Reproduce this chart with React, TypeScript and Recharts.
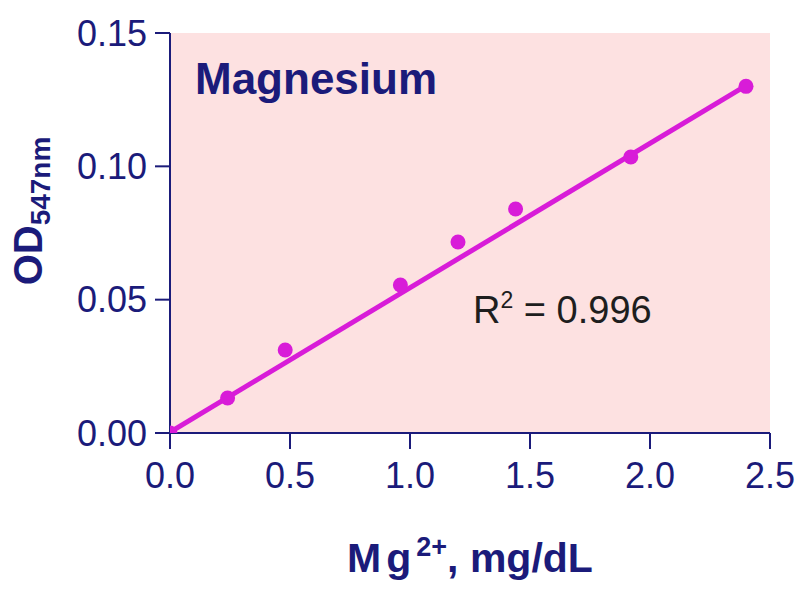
import React from 'react';
import {
  ComposedChart,
  Scatter,
  XAxis,
  YAxis,
  ReferenceArea,
  Label,
} from 'recharts';

// Mg2+ standards (mg/dL) and measured OD at 547 nm
const concentrations = [0, 0.24, 0.48, 0.96, 1.2, 1.44, 1.92, 2.4];
const odValues = [0.0, 0.0131, 0.0311, 0.0555, 0.0716, 0.084, 0.1035, 0.13];

// linear fit end points
const fitX = [0, 2.4];
const fitY = [0.0003, 0.1303];

const xTicks = [0, 0.5, 1.0, 1.5, 2.0, 2.5];
const yTicks = [0, 0.05, 0.1, 0.15];

const points = concentrations.map((x, i) => ({ x, y: odValues[i] }));
const fitLine = fitX.map((x, i) => ({ x, y: fitY[i] }));

const NAVY = '#1b1b7a';
const MAGENTA = '#d81cd8';
const PINK = '#fde1e1';
const FONT = '"Liberation Sans", Arial, sans-serif';

const YTitle = (props: any) => {
  const { viewBox } = props;
  const cx = 28;
  const cy = viewBox.y + viewBox.height / 2 - 22;
  return (
    <text
      x={cx}
      y={cy}
      transform={`rotate(-90, ${cx}, ${cy})`}
      textAnchor="middle"
      fill={NAVY}
      fontFamily={FONT}
      fontWeight="bold"
      fontSize={40}
      dominantBaseline="central"
    >
      OD
      <tspan fontSize={28} dy={12}>
        547nm
      </tspan>
    </text>
  );
};

const XTitle = (props: any) => {
  const { viewBox } = props;
  const cx = viewBox.x + viewBox.width / 2;
  return (
    <text
      x={cx}
      y={572}
      textAnchor="middle"
      fill={NAVY}
      fontFamily={FONT}
      fontWeight="bold"
      fontSize={41}
    >
      <tspan letterSpacing={5}>Mg</tspan>
      <tspan fontSize={27} dy={-16}>2+</tspan>
      <tspan dy={16}>, mg/dL</tspan>
    </text>
  );
};

const Blank = () => <g />;

export default function App() {
  return (
    <div style={{ position: 'absolute', left: 0, top: 0, width: 800, height: 600, background: '#fff' }}>
      <ComposedChart
        width={800}
        height={600}
        margin={{ top: 33, right: 30, bottom: 0, left: 0 }}
      >
        <ReferenceArea x1={0} x2={2.5} y1={0} y2={0.15} fill={PINK} fillOpacity={1} stroke="none" />
        <XAxis
          type="number"
          dataKey="x"
          domain={[0, 2.5]}
          ticks={xTicks}
          tickFormatter={(v: number) => v.toFixed(1)}
          height={167}
          tickSize={16}
          tickMargin={13}
          axisLine={{ stroke: NAVY, strokeWidth: 2 }}
          tickLine={{ stroke: NAVY, strokeWidth: 2 }}
          tick={{ fill: NAVY, fontSize: 36, fontFamily: FONT }}
          allowDataOverflow
        >
          <Label content={<XTitle />} />
        </XAxis>
        <YAxis
          type="number"
          dataKey="y"
          domain={[0, 0.15]}
          ticks={yTicks}
          tickFormatter={(v: number) => v.toFixed(2)}
          width={170}
          tickSize={15}
          tickMargin={8}
          axisLine={{ stroke: NAVY, strokeWidth: 2 }}
          tickLine={{ stroke: NAVY, strokeWidth: 2 }}
          tick={{ fill: NAVY, fontSize: 36, fontFamily: FONT }}
          allowDataOverflow
        >
          <Label content={<YTitle />} />
        </YAxis>
        <Scatter
          data={fitLine}
          line={{ stroke: MAGENTA, strokeWidth: 5 }}
          shape={<Blank />}
          isAnimationActive={false}
        />
        <Scatter
          data={points}
          fill={MAGENTA}
          shape={(p: any) => <circle cx={p.cx} cy={p.cy} r={7.5} fill={MAGENTA} />}
          isAnimationActive={false}
        />
      </ComposedChart>
      <div
        style={{
          position: 'absolute',
          left: 195,
          top: 57,
          fontFamily: FONT,
          fontWeight: 'bold',
          fontSize: 44,
          color: NAVY,
          lineHeight: 1,
        }}
      >
        Magnesium
      </div>
      <div
        style={{
          position: 'absolute',
          left: 473,
          top: 291,
          fontFamily: FONT,
          fontSize: 38,
          color: '#1e1e1e',
          lineHeight: 1,
          whiteSpace: 'nowrap',
        }}
      >
        R<sup style={{ fontSize: 23, verticalAlign: 'top', position: 'relative', top: -2 }}>2</sup> = 0.996
      </div>
    </div>
  );
}
